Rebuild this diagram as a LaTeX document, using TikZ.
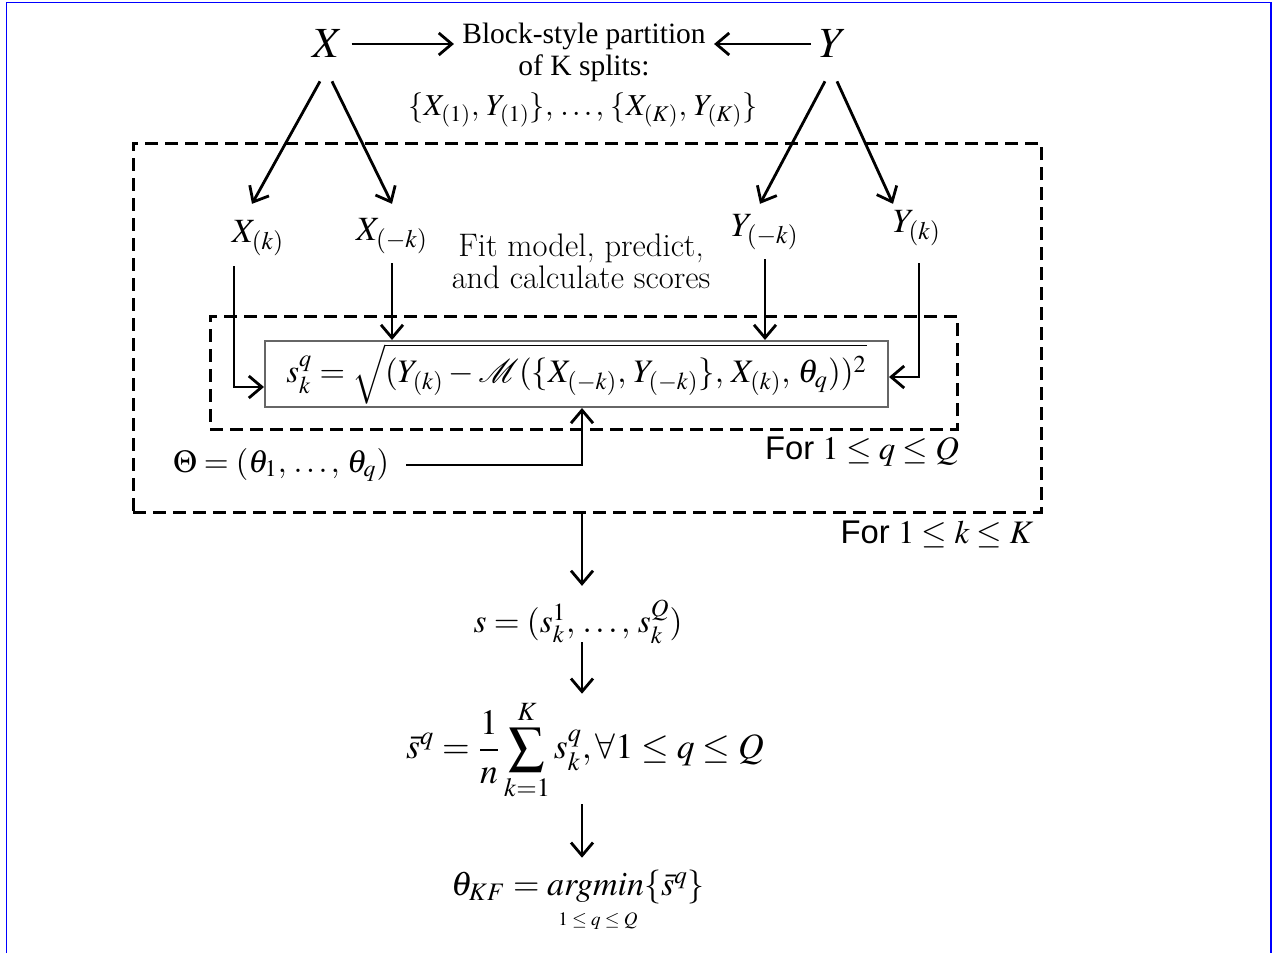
\documentclass[tikz,border=0pt]{standalone}
\usepackage{mathptmx}
\usepackage{fontspec}
\setmainfont{Liberation Serif}
\newfontfamily\lmfont{Latin Modern Roman}
\newfontfamily\sansfnt{Liberation Sans}
\usetikzlibrary{arrows.meta,calc}
\tikzset{
  arr/.style={line width=1.4pt, -{Straight Barb[length=6.5pt,width=11pt]}},
  dbox/.style={draw, dash pattern=on 6.5pt off 3.5pt, line width=1.5pt, inner sep=0pt},
  bigl/.style={inner sep=4pt, font=\fontsize{21.5}{24}\selectfont},
  lab/.style={inner sep=4pt, font=\fontsize{17}{20}\selectfont},
  txt/.style={inner sep=4pt, font=\fontsize{14.75}{17}\selectfont},
  fittxt/.style={inner sep=2pt, align=center, font=\lmfont\fontsize{16.3}{16}\selectfont},
  fbox/.style={draw=black!60, line width=1pt, fill=white, inner sep=0pt, minimum width=311.5pt, minimum height=33pt, font=\fontsize{16.4}{19}\selectfont},
  eq/.style={inner sep=4pt, font=\fontsize{16}{19}\selectfont},
  fortxt/.style={inner sep=2pt, font=\fontsize{16.4}{19}\selectfont},
}
\begin{document}
\begin{tikzpicture}[x=0.5pt,y=-0.5pt]
\useasboundingbox (0,0) rectangle (1274,953);
\draw[blue, line width=0.9pt] (6.5,953) -- (6.5,2.5) -- (1271,2.5) -- (1271,953);
\coordinate (spine) at (582,0);

% dashed loops
\node[dbox, minimum width=454pt, minimum height=184.5pt] (outer) at (587,327.5) {};
\node[dbox, minimum width=373.5pt, minimum height=56.5pt] (inner) at (583.5,372.5) {};

% top
\node[bigl] (X) at (328,44) {$X$};
\node[bigl] (Y) at (833,44) {$Y$};
\node[txt] (b1) at (584,36) {Block-style partition};
\node[txt] (b2) at (584,68) {of K splits:};
\node[txt, font=\fontsize{15.2}{18}\selectfont] (b3) at (583,110) {$\{X_{(1)},\, Y_{(1)}\},\, \ldots,\, \{X_{(K)},\, Y_{(K)}\}$};
\draw[arr] (X.east) -- (X.east -| b1.west);
\draw[arr] (Y.west) -- (Y.west -| b1.east);

% split
\node[lab] (Xk) at (258,238) {$X_{(k)}$};
\node[lab] (Xmk) at (392,236) {$X_{(-k)}$};
\node[lab] (Ymk) at (765,232) {$Y_{(-k)}$};
\node[lab] (Yk) at (917,228) {$Y_{(k)}$};
\node[fittxt] (fit) at (581,261) {Fit model, predict,\\and calculate scores};

\draw[arr] ($(X.south)+(-8,15)$) -- ($(Xk.north)+(-6,-8)$);
\draw[arr] ($(X.south)+(4,15)$) -- ($(Xmk.north)+(0,-6)$);
\draw[arr] ($(Y.south)+(-8,15)$) -- ($(Ymk.north)+(-5,-2)$);
\draw[arr] ($(Y.south)+(4,15)$) -- ($(Yk.north)+(-24,2)$);

% formula box
\node[fbox] (formula) at (576.5,374) {$s_k^q = \sqrt{(Y_{(k)} - \mathcal{M}(\{X_{(-k)},\, Y_{(-k)}\},\, X_{(k)},\, \theta_q))^2}$\hspace{6pt}};
\draw[arr] ($(Xk.south)+(-24,2)$) |- ($(formula.south west)+(0,-21)$);
\draw[arr] ($(Xmk.south)+(0,1)$) -- (Xmk.south |- formula.north);
\draw[arr] ($(Ymk.south)+(0,1)$) -- (Ymk.south |- formula.north);
\draw[arr] ($(Yk.south)+(2,9)$) |- ($(formula.north east)+(0,37)$);

\node[eq] (theta) at (281,465) {$\Theta = (\theta_1,\, \ldots,\, \theta_q)$};
\draw[arr] ($(theta.east)+(9,0)$) -| (formula.south -| spine);

\node[fortxt] (forq) at (862,452) {{\sansfnt For} $1 \leq q \leq Q$};
\node[fortxt] (fork) at (937,534) {{\sansfnt For} $1 \leq k \leq K$};

% results
\node[eq, font=\fontsize{16.6}{19}\selectfont] (s) at (578,622) {$s = (s_k^1,\, \ldots,\, s_k^Q)$};
\node[eq, font=\fontsize{17.8}{20}\selectfont] (sbar) at (585,750) {$\displaystyle \bar{s}^q = \frac{1}{n}\sum_{k=1}^{K} s_k^q, \forall 1 \leq q \leq Q$};
\node[inner sep=1pt, font=\fontsize{17}{20}\selectfont] (tkf) at (578,887) {$\theta_{KF} = \mathit{argmin}\{\bar{s}^q\}$};
\node[inner sep=1pt, font=\fontsize{9.5}{11}\selectfont] (tkfsub) at (598,921) {$1 \leq q \leq Q$};

\draw[arr] (outer.south -| spine) -- ($(s.north -| spine)+(0,-6)$);
\draw[arr] ($(s.south -| spine)+(0,-10)$) -- ($(sbar.north -| spine)+(0,2)$);
\draw[arr] ($(sbar.south -| spine)+(0,-4)$) -- ($(tkf.north -| spine)+(0,-10)$);
\end{tikzpicture}
\end{document}
